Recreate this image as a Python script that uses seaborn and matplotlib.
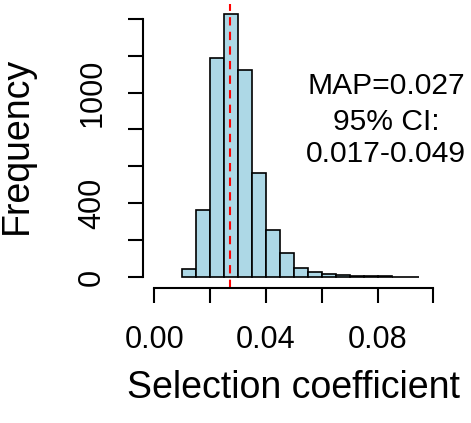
import numpy as np
import pandas as pd
import matplotlib
matplotlib.use("Agg")
import matplotlib.pyplot as plt
import seaborn as sns

# ---- data ----
bin_edges = [0.010, 0.015, 0.020, 0.025, 0.030, 0.035, 0.040, 0.045, 0.050,
             0.055, 0.060, 0.065, 0.070, 0.075, 0.080, 0.085, 0.090, 0.095]
counts = [42, 362, 1188, 1425, 1123, 564, 254, 131, 50, 25, 16, 11, 7, 4, 3, 2, 2]
map_value = 0.027
annot_lines = ["MAP=0.027", "95% CI:", "0.017-0.049"]
x_ticks = [0.00, 0.02, 0.04, 0.06, 0.08, 0.10]
x_ticklabels = ["0.00", "", "0.04", "", "0.08", ""]
y_ticks = [0, 200, 400, 600, 800, 1000, 1200, 1400]
y_ticklabels = ["0", "", "400", "", "", "1000", "", ""]
x_label = "Selection coefficient"
y_label = "Frequency"

mids = [(a + b) / 2 for a, b in zip(bin_edges[:-1], bin_edges[1:])]
df = pd.DataFrame({"s": mids, "n": counts})

sns.set_theme(style="ticks")
plt.rcParams["font.family"] = ["Liberation Sans", "DejaVu Sans"]

fig = plt.figure(figsize=(4.71, 4.23), dpi=100)
fig.patch.set_facecolor("white")
ax = fig.add_axes([0.3043, 0.3203, 0.6395, 0.6712])
ax.set_facecolor("white")

sns.histplot(data=df, x="s", weights="n", bins=bin_edges, stat="count",
             color="#ADD8E6", edgecolor="black", linewidth=1.2, alpha=1, ax=ax)

ax.axvline(map_value, color="red", lw=1.5, ls=(0, (4, 3)))

ax.set_xlim(-0.004, 0.104)
ax.set_ylim(-57, 1482)

for s in ["top", "right"]:
    ax.spines[s].set_visible(False)
ax.spines["left"].set_bounds(0, 1400)
ax.spines["bottom"].set_bounds(0, 0.10)
for s in ["left", "bottom"]:
    ax.spines[s].set_linewidth(1.5)
    ax.spines[s].set_color("black")

ax.set_xticks(x_ticks)
ax.set_xticklabels(x_ticklabels)
ax.set_yticks(y_ticks)
ax.set_yticklabels(y_ticklabels, rotation=90, va="center")
ax.tick_params(axis="both", direction="out", length=11, width=1.5,
               colors="black", labelsize=22)
ax.tick_params(axis="x", pad=16)
ax.tick_params(axis="y", pad=15)

ax.set_xlabel(x_label, fontsize=27, color="black")
ax.set_ylabel(y_label, fontsize=27, color="black")
ax.xaxis.set_label_coords(0.5, -0.29)
ax.yaxis.set_label_coords(-0.36, 0.5)

baseline_y = [990, 799, 623]
for txt, yv in zip(annot_lines, baseline_y):
    ax.text(0.083, yv, txt, ha="center", va="baseline", fontsize=21.6,
            color="black")

fig.savefig("out.png", dpi=100, facecolor="white")
